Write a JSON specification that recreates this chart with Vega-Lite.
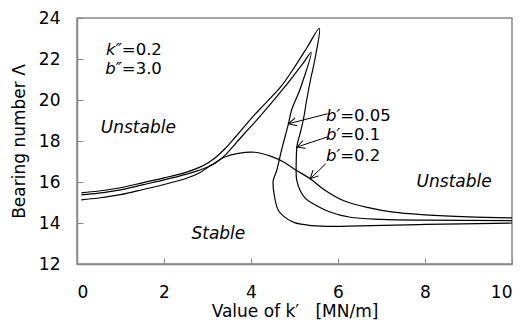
{
  "$schema": "https://vega.github.io/schema/vega-lite/v6.json",
  "width": 435,
  "height": 246,
  "autosize": "none",
  "padding": {"left": 77, "top": 18, "right": 11, "bottom": 62},
  "background": "white",
  "config": {"view": {"stroke": "#888888", "strokeWidth": 1.5}, "font": "DejaVu Sans"},
  "datasets": {
    "curves": [
      {"s": "0.1", "i": 0, "k": 0.1, "L": 15.47},
      {"s": "0.1", "i": 1, "k": 0.5, "L": 15.56},
      {"s": "0.1", "i": 2, "k": 1.0, "L": 15.72},
      {"s": "0.1", "i": 3, "k": 1.5, "L": 15.96},
      {"s": "0.1", "i": 4, "k": 2.0, "L": 16.2},
      {"s": "0.1", "i": 5, "k": 2.5, "L": 16.47},
      {"s": "0.1", "i": 6, "k": 2.8, "L": 16.7},
      {"s": "0.1", "i": 7, "k": 3.0, "L": 16.92},
      {"s": "0.1", "i": 8, "k": 3.2, "L": 17.22},
      {"s": "0.1", "i": 9, "k": 3.4, "L": 17.62},
      {"s": "0.1", "i": 10, "k": 3.63, "L": 18.17},
      {"s": "0.1", "i": 11, "k": 3.86, "L": 18.74},
      {"s": "0.1", "i": 12, "k": 4.09, "L": 19.3},
      {"s": "0.1", "i": 13, "k": 4.32, "L": 19.81},
      {"s": "0.1", "i": 14, "k": 4.52, "L": 20.26},
      {"s": "0.1", "i": 15, "k": 4.71, "L": 20.71},
      {"s": "0.1", "i": 16, "k": 5.0, "L": 21.6},
      {"s": "0.1", "i": 17, "k": 5.3, "L": 22.6},
      {"s": "0.1", "i": 18, "k": 5.57, "L": 23.5},
      {"s": "0.1", "i": 19, "k": 5.47, "L": 22.0},
      {"s": "0.1", "i": 20, "k": 5.37, "L": 21.0},
      {"s": "0.1", "i": 21, "k": 5.28, "L": 20.0},
      {"s": "0.1", "i": 22, "k": 5.2, "L": 19.0},
      {"s": "0.1", "i": 23, "k": 5.12, "L": 18.3},
      {"s": "0.1", "i": 24, "k": 5.06, "L": 17.8},
      {"s": "0.1", "i": 25, "k": 5.04, "L": 17.0},
      {"s": "0.1", "i": 26, "k": 5.05, "L": 16.1},
      {"s": "0.1", "i": 27, "k": 5.13, "L": 15.59},
      {"s": "0.1", "i": 28, "k": 5.25, "L": 15.2},
      {"s": "0.1", "i": 29, "k": 5.43, "L": 14.94},
      {"s": "0.1", "i": 30, "k": 5.8, "L": 14.55},
      {"s": "0.1", "i": 31, "k": 6.28, "L": 14.28},
      {"s": "0.1", "i": 32, "k": 7.0, "L": 14.18},
      {"s": "0.1", "i": 33, "k": 8.0, "L": 14.14},
      {"s": "0.1", "i": 34, "k": 10.0, "L": 14.12},

      {"s": "0.05", "i": 0, "k": 0.1, "L": 15.37},
      {"s": "0.05", "i": 1, "k": 0.5, "L": 15.46},
      {"s": "0.05", "i": 2, "k": 1.0, "L": 15.62},
      {"s": "0.05", "i": 3, "k": 1.5, "L": 15.86},
      {"s": "0.05", "i": 4, "k": 2.0, "L": 16.1},
      {"s": "0.05", "i": 5, "k": 2.5, "L": 16.37},
      {"s": "0.05", "i": 6, "k": 2.8, "L": 16.57},
      {"s": "0.05", "i": 7, "k": 3.0, "L": 16.73},
      {"s": "0.05", "i": 8, "k": 3.2, "L": 16.95},
      {"s": "0.05", "i": 9, "k": 3.4, "L": 17.3},
      {"s": "0.05", "i": 10, "k": 3.63, "L": 17.84},
      {"s": "0.05", "i": 11, "k": 3.86, "L": 18.39},
      {"s": "0.05", "i": 12, "k": 4.09, "L": 18.92},
      {"s": "0.05", "i": 13, "k": 4.32, "L": 19.48},
      {"s": "0.05", "i": 14, "k": 4.55, "L": 20.06},
      {"s": "0.05", "i": 15, "k": 4.78, "L": 20.65},
      {"s": "0.05", "i": 16, "k": 5.0, "L": 21.25},
      {"s": "0.05", "i": 17, "k": 5.2, "L": 21.8},
      {"s": "0.05", "i": 18, "k": 5.38, "L": 22.33},
      {"s": "0.05", "i": 19, "k": 5.14, "L": 20.6},
      {"s": "0.05", "i": 20, "k": 4.93, "L": 19.49},
      {"s": "0.05", "i": 21, "k": 4.86, "L": 18.84},
      {"s": "0.05", "i": 22, "k": 4.7, "L": 17.54},
      {"s": "0.05", "i": 23, "k": 4.59, "L": 16.56},
      {"s": "0.05", "i": 24, "k": 4.51, "L": 16.07},
      {"s": "0.05", "i": 25, "k": 4.53, "L": 15.42},
      {"s": "0.05", "i": 26, "k": 4.63, "L": 14.61},
      {"s": "0.05", "i": 27, "k": 4.8, "L": 14.25},
      {"s": "0.05", "i": 28, "k": 5.0, "L": 14.02},
      {"s": "0.05", "i": 29, "k": 5.3, "L": 13.9},
      {"s": "0.05", "i": 30, "k": 5.74, "L": 13.84},
      {"s": "0.05", "i": 31, "k": 6.5, "L": 13.86},
      {"s": "0.05", "i": 32, "k": 8.0, "L": 13.93},
      {"s": "0.05", "i": 33, "k": 10.0, "L": 14.0},

      {"s": "0.2", "i": 0, "k": 0.1, "L": 15.13},
      {"s": "0.2", "i": 1, "k": 0.5, "L": 15.22},
      {"s": "0.2", "i": 2, "k": 1.0, "L": 15.38},
      {"s": "0.2", "i": 3, "k": 1.5, "L": 15.62},
      {"s": "0.2", "i": 4, "k": 2.0, "L": 15.88},
      {"s": "0.2", "i": 5, "k": 2.5, "L": 16.17},
      {"s": "0.2", "i": 6, "k": 2.8, "L": 16.43},
      {"s": "0.2", "i": 7, "k": 3.1, "L": 16.84},
      {"s": "0.2", "i": 8, "k": 3.4, "L": 17.22},
      {"s": "0.2", "i": 9, "k": 3.71, "L": 17.4},
      {"s": "0.2", "i": 10, "k": 4.09, "L": 17.45},
      {"s": "0.2", "i": 11, "k": 4.48, "L": 17.24},
      {"s": "0.2", "i": 12, "k": 4.78, "L": 16.94},
      {"s": "0.2", "i": 13, "k": 5.0, "L": 16.62},
      {"s": "0.2", "i": 14, "k": 5.36, "L": 16.16},
      {"s": "0.2", "i": 15, "k": 5.7, "L": 15.6},
      {"s": "0.2", "i": 16, "k": 6.12, "L": 15.1},
      {"s": "0.2", "i": 17, "k": 6.7, "L": 14.75},
      {"s": "0.2", "i": 18, "k": 7.27, "L": 14.53},
      {"s": "0.2", "i": 19, "k": 8.0, "L": 14.4},
      {"s": "0.2", "i": 20, "k": 9.0, "L": 14.3},
      {"s": "0.2", "i": 21, "k": 10.0, "L": 14.25}
    ],
    "labels": [
      {"g": "ir", "t": "k″", "k": 1.03, "L": 22.46},
      {"g": "nl", "t": "=0.2", "k": 1.03, "L": 22.46},
      {"g": "ir", "t": "b″", "k": 1.03, "L": 21.49},
      {"g": "nl", "t": "=3.0", "k": 1.03, "L": 21.49},
      {"g": "ic", "t": "Unstable", "k": 1.41, "L": 18.61},
      {"g": "ic", "t": "Stable", "k": 3.25, "L": 13.44},
      {"g": "ic", "t": "Unstable", "k": 8.67, "L": 16.02},
      {"g": "ir", "t": "b′", "k": 6.05, "L": 19.22},
      {"g": "nl", "t": "=0.05", "k": 6.05, "L": 19.22},
      {"g": "ir", "t": "b′", "k": 6.05, "L": 18.28},
      {"g": "nl", "t": "=0.1", "k": 6.05, "L": 18.28},
      {"g": "ir", "t": "b′", "k": 6.05, "L": 17.29},
      {"g": "nl", "t": "=0.2", "k": 6.05, "L": 17.29}
    ],
    "arrows": [
      {"a": 1, "k": 5.76, "L": 19.33, "k2": 4.86, "L2": 18.84},
      {"a": 2, "k": 5.76, "L": 18.2, "k2": 5.05, "L2": 17.7},
      {"a": 3, "k": 5.72, "L": 16.89, "k2": 5.36, "L2": 16.16}
    ]
  },
  "encoding": {
    "x": {
      "field": "k", "type": "quantitative",
      "scale": {"domain": [0, 10], "nice": false, "zero": false},
      "axis": {
        "title": "Value of k′\u00a0\u00a0\u00a0[MN/m]",
        "values": [0, 2, 4, 6, 8, 10],
        "grid": false,
        "domainColor": "#888888", "domainWidth": 1.5,
        "tickColor": "#888888", "tickWidth": 1, "tickSize": -6,
        "labelFont": "DejaVu Sans", "labelFontSize": 17, "labelColor": "black",
        "labelPadding": 26,
        "titleFont": "DejaVu Sans", "titleFontSize": 17, "titleFontWeight": "normal", "titleColor": "black",
        "titlePadding": 3
      }
    },
    "y": {
      "field": "L", "type": "quantitative",
      "scale": {"domain": [12, 24], "nice": false, "zero": false},
      "axis": {
        "title": "Bearing number Λ",
        "values": [12, 14, 16, 18, 20, 22, 24],
        "grid": false,
        "domainColor": "#888888", "domainWidth": 1.5,
        "tickColor": "#888888", "tickWidth": 1, "tickSize": -6,
        "labelFont": "DejaVu Sans", "labelFontSize": 17, "labelColor": "black",
        "labelPadding": 23,
        "titleFont": "DejaVu Sans", "titleFontSize": 17, "titleFontWeight": "normal", "titleColor": "black",
        "titlePadding": 10
      }
    }
  },
  "layer": [
    {
      "data": {"name": "curves"},
      "mark": {"type": "line", "color": "black", "strokeWidth": 1.2, "interpolate": "catmull-rom"},
      "encoding": {
        "detail": {"field": "s", "type": "nominal"},
        "order": {"field": "i", "type": "quantitative"}
      }
    },
    {
      "data": {"name": "arrows"},
      "mark": {"type": "rule", "color": "black", "strokeWidth": 1},
      "encoding": {
        "x2": {"field": "k2"},
        "y2": {"field": "L2"}
      }
    },
    {
      "data": {"name": "arrows"},
      "transform": [{"filter": "datum.a == 1"}],
      "mark": {"type": "point", "shape": "M-1,-0.5L0,0L-1,0.5", "size": 256, "filled": false, "stroke": "black", "strokeWidth": 1, "opacity": 1, "angle": 166},
      "encoding": {
        "x": {"field": "k2", "type": "quantitative"},
        "y": {"field": "L2", "type": "quantitative"}
      }
    },
    {
      "data": {"name": "arrows"},
      "transform": [{"filter": "datum.a == 2"}],
      "mark": {"type": "point", "shape": "M-1,-0.5L0,0L-1,0.5", "size": 256, "filled": false, "stroke": "black", "strokeWidth": 1, "opacity": 1, "angle": 161},
      "encoding": {
        "x": {"field": "k2", "type": "quantitative"},
        "y": {"field": "L2", "type": "quantitative"}
      }
    },
    {
      "data": {"name": "arrows"},
      "transform": [{"filter": "datum.a == 3"}],
      "mark": {"type": "point", "shape": "M-1,-0.5L0,0L-1,0.5", "size": 256, "filled": false, "stroke": "black", "strokeWidth": 1, "opacity": 1, "angle": 135},
      "encoding": {
        "x": {"field": "k2", "type": "quantitative"},
        "y": {"field": "L2", "type": "quantitative"}
      }
    },
    {
      "data": {"name": "labels"},
      "transform": [{"filter": "datum.g == 'ir'"}],
      "mark": {"type": "text", "font": "DejaVu Sans", "fontSize": 16.5, "fontStyle": "italic", "align": "right", "baseline": "middle", "color": "black"},
      "encoding": {"text": {"field": "t"}}
    },
    {
      "data": {"name": "labels"},
      "transform": [{"filter": "datum.g == 'nl'"}],
      "mark": {"type": "text", "font": "DejaVu Sans", "fontSize": 16.5, "align": "left", "baseline": "middle", "color": "black"},
      "encoding": {"text": {"field": "t"}}
    },
    {
      "data": {"name": "labels"},
      "transform": [{"filter": "datum.g == 'ic'"}],
      "mark": {"type": "text", "font": "DejaVu Sans", "fontSize": 17, "fontStyle": "italic", "align": "center", "baseline": "middle", "color": "black"},
      "encoding": {"text": {"field": "t"}}
    }
  ]
}
